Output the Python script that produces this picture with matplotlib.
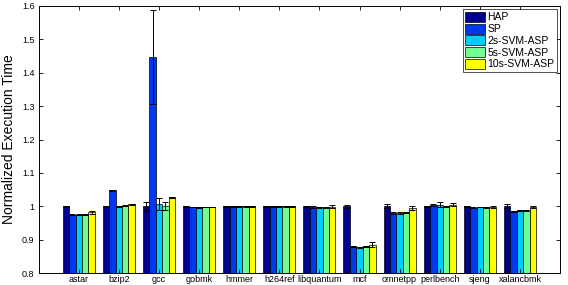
import numpy as np
import matplotlib.pyplot as plt

plt.rcParams['font.family'] = ['Liberation Sans', 'DejaVu Sans']

benchmarks = ['astar', 'bzip2', 'gcc', 'gobmk', 'hmmer', 'h264ref', 'libquantum',
              'mcf', 'omnetpp', 'perlbench', 'sjeng', 'xalancbmk']
series = ['HAP', 'SP', '2s-SVM-ASP', '5s-SVM-ASP', '10s-SVM-ASP']

hap = [1.0, 1.0, 1.0, 1.0, 1.0, 1.0, 1.0, 1.0, 1.0, 1.0, 1.0, 1.0]
sp = [0.975, 1.048, 1.447, 0.998, 1.0, 1.0, 0.998, 0.880, 0.980, 1.003, 0.996, 0.985]
svm2 = [0.975, 1.0, 1.008, 0.997, 1.0, 1.0, 0.997, 0.877, 0.980, 1.005, 0.998, 0.988]
svm5 = [0.975, 1.002, 1.0, 0.998, 1.0, 1.0, 0.996, 0.880, 0.981, 1.0, 0.996, 0.988]
svm10 = [0.982, 1.006, 1.027, 0.998, 1.0, 1.0, 0.999, 0.885, 0.995, 1.005, 0.998, 0.997]

hap_err = [0.001, 0.001, 0.013, 0.001, 0.001, 0.001, 0.001, 0.005, 0.006, 0.002, 0.001, 0.006]
sp_err = [0.001, 0.002, 0.142, 0.001, 0.001, 0.001, 0.002, 0.002, 0.002, 0.003, 0.001, 0.002]
svm2_err = [0.001, 0.001, 0.018, 0.001, 0.001, 0.001, 0.002, 0.002, 0.002, 0.008, 0.001, 0.002]
svm5_err = [0.001, 0.001, 0.012, 0.001, 0.001, 0.001, 0.001, 0.002, 0.002, 0.002, 0.001, 0.002]
svm10_err = [0.004, 0.001, 0.002, 0.001, 0.001, 0.001, 0.005, 0.007, 0.005, 0.004, 0.002, 0.003]

values = [hap, sp, svm2, svm5, svm10]
errors = [hap_err, sp_err, svm2_err, svm5_err, svm10_err]
colors = ['#000090', '#0038F0', '#00CCFF', '#70FF90', '#FFFF00']

fig = plt.figure(figsize=(5.68, 2.85), dpi=100)
ax = fig.add_axes([0.068, 0.042, 0.918, 0.937])

x = np.arange(1, len(benchmarks) + 1)
w = 0.16
for i in range(5):
    ax.bar(x + (i - 2) * w, values[i], w, color=colors[i], edgecolor='black',
           linewidth=0.5, label=series[i],
           yerr=errors[i], error_kw=dict(ecolor='black', elinewidth=0.7, capsize=2.5, capthick=0.7))

ax.set_xlim(0, 13)
ax.set_ylim(0.8, 1.6)
ax.set_xticks(x)
ax.set_xticklabels(benchmarks, fontsize=6.5)
yt = np.arange(0.8, 1.61, 0.1)
ax.set_yticks(yt)
ax.set_yticklabels(['%g' % round(v, 1) for v in yt], fontsize=6.5)
ax.tick_params(direction='in', top=True, right=True, length=3, width=0.6)
ax.tick_params(axis='x', pad=1.5)
ax.tick_params(axis='y', pad=3)
ax.set_ylabel('Normalized Execution Time', fontsize=10)
for s in ax.spines.values():
    s.set_linewidth(0.7)

leg = ax.legend(loc='upper right', fontsize=7.5, fancybox=False, edgecolor='black',
                handlelength=1.9, handleheight=1.1, handletextpad=0.2,
                labelspacing=0.12, borderpad=0.25, borderaxespad=0.3)
leg.get_frame().set_linewidth(0.6)

fig.savefig('out.png', dpi=100)
